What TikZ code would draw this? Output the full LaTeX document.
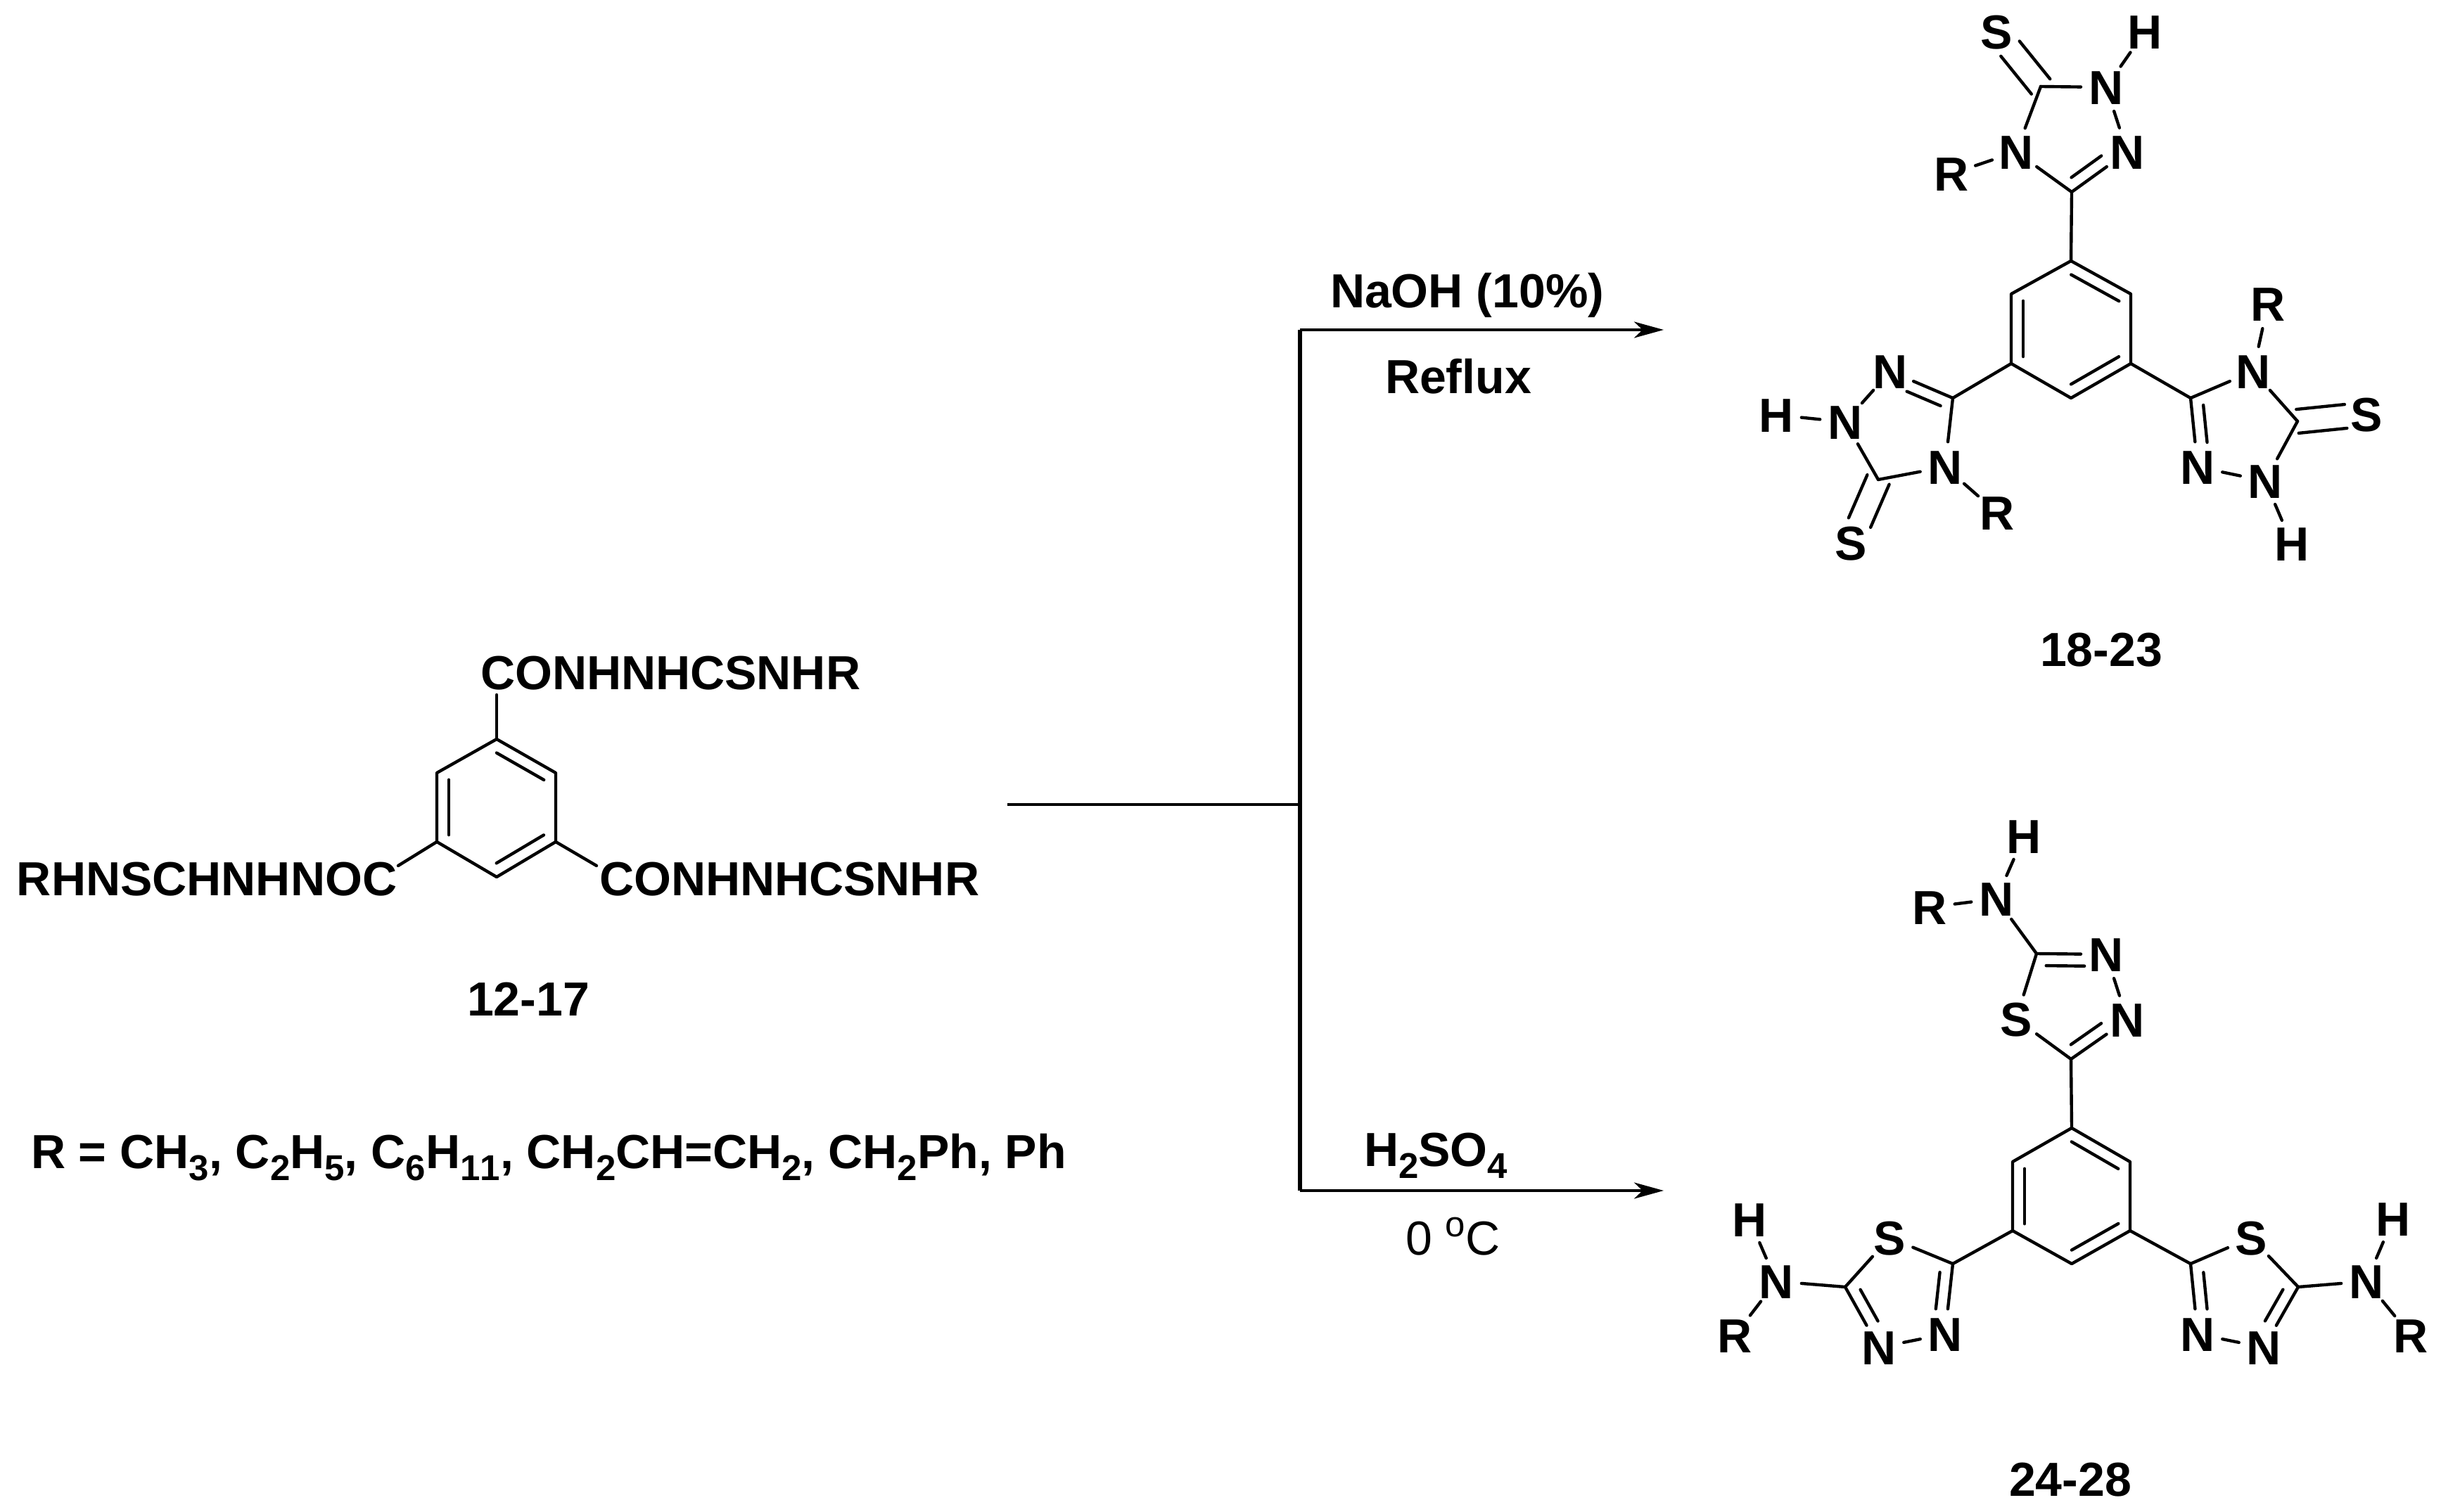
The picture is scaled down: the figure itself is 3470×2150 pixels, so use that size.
\documentclass[tikz,border=0pt]{standalone}
\usepackage{fontspec}
\setmainfont[Kerning=Off]{Liberation Sans}
\usetikzlibrary{calc,arrows.meta}
\newcommand{\bigfont}{\fontsize{34}{40}\selectfont}
\newcommand{\lowtxt}[1]{\raisebox{-8.5pt}{\fontsize{25.5}{27}\selectfont #1}}
\newcommand{\hightxt}[1]{\raisebox{13pt}{\fontsize{25.5}{27}\selectfont #1}}
\newcommand{\innerbond}[5]{\draw[bond] ($(#1)!#3!(#2)!8.5pt!#5:(#2)$) -- ($(#1)!#4!(#2)!8.5pt!#5:(#2)$);}
\newcommand{\twinbond}[3]{%
  \draw[bond] ($(#1)!8.5pt!90:(#2)$) -- ($(#1)!#3!(#2)!8.5pt!90:(#2)$);
  \draw[bond] ($(#1)!8.5pt!-90:(#2)$) -- ($(#1)!#3!(#2)!8.5pt!-90:(#2)$);}
\newcommand{\ringbonds}[6]{%
  \draw[bond] (#1) -- (#2) -- (#3) -- (#4) -- (#5) -- (#6) -- cycle;
  \innerbond{#1}{#2}{.1}{.9}{-90}
  \innerbond{#3}{#4}{.1}{.9}{-90}
  \innerbond{#5}{#6}{.1}{.9}{-90}}
\tikzset{
  bond/.style={line width=2.2pt,line cap=round,line join=round,black},
  atom/.style={circle,inner sep=0pt,outer sep=0pt,minimum size=36pt,font=\bigfont\bfseries,text height=24.5pt,text depth=0pt},
  txt/.style={anchor=base west,inner sep=0pt,outer sep=0pt,font=\bigfont\bfseries},
  plain/.style={anchor=base west,inner sep=0pt,outer sep=0pt,font=\bigfont},
  branch/.style={line width=2.2pt,black},
  trunk/.style={line width=2.6pt,black,line cap=square},
  rxn/.style={line width=2.2pt,black,-{Stealth[length=21pt,width=11.5pt,inset=6pt]}}
}
\begin{document}
\begin{tikzpicture}[x=0.5pt,y=-0.5pt]
\useasboundingbox (0,0) rectangle (3470,2150);

% ---------- starting material
\coordinate (c1) at (706,1051);
\coordinate (c2) at (790,1099);
\coordinate (c3) at (790,1197);
\coordinate (c4) at (706,1247);
\coordinate (c5) at (621,1197);
\coordinate (c6) at (621,1099);
\ringbonds{c1}{c2}{c3}{c4}{c5}{c6}
\coordinate (ce1) at (706,988);
\coordinate (ce3) at (848,1231);
\coordinate (ce5) at (566,1231);
\draw[bond] (c1) -- (ce1);
\draw[bond] (c3) -- (ce3);
\draw[bond] (c5) -- (ce5);
\node[txt] (ctop) at (683,980) {CONHNHCSNHR};
\node[txt] (cright) at (852,1273) {CONHNHCSNHR};
\node[txt] (cleft) at (24,1273) {RHNSCHNHNOC};
\node[txt] (clabel) at (664,1444) {12-17};
\node[txt] (rdef) at (44,1661) {R = CH\lowtxt{3}, C\lowtxt{2}H\lowtxt{5}, C\lowtxt{6}H\lowtxt{11}, CH\lowtxt{2}CH=CH\lowtxt{2}, CH\lowtxt{2}Ph, Ph};

% ---------- reaction scheme
\coordinate (j0) at (1432,1144);
\coordinate (j1) at (1848,1144);
\coordinate (jt) at (1848,469);
\coordinate (jb) at (1848,1693);
\coordinate (tipt) at (2365,469);
\coordinate (tipb) at (2365,1693);
\draw[branch] (j0) -- (j1);
\draw[trunk] (jt) -- (jb);
\draw[rxn] (jt) -- (tipt);
\draw[rxn] (jb) -- (tipb);
\node[txt] (naoh) at (1891,438) {NaOH (10\%)};
\node[txt] (reflux) at (1969,560) {Reflux};
\node[txt] (acid) at (1939,1658) {H\lowtxt{2}SO\lowtxt{4}};
\node[plain] (temp) at (1998,1784) {0 \hightxt{o}C};

% ---------- triazole product
\coordinate (a1) at (2944,371);
\coordinate (a2) at (3029,418);
\coordinate (a3) at (3029,517);
\coordinate (a4) at (2944,566);
\coordinate (a5) at (2859,517);
\coordinate (a6) at (2859,418);
\ringbonds{a1}{a2}{a3}{a4}{a5}{a6}
% top ring
\coordinate (ta3) at (2945,273);
\coordinate (ta5) at (2901,123);
\node[atom] (taS) at (2838,45) {S};
\node[atom] (taH) at (3049,45) {H};
\node[atom] (taN1) at (2994,124) {N};
\node[atom] (taN2) at (3024,216) {N};
\node[atom] (taN4) at (2866,216) {N};
\node[atom] (taR) at (2774,247) {R};
\draw[bond] (a1) -- (ta3);
\draw[bond] (ta3) -- (taN2);
\innerbond{ta3}{taN2}{.12}{.66}{90}
\draw[bond] (ta3) -- (taN4);
\draw[bond] (ta5) -- (taN4);
\draw[bond] (ta5) -- (taN1);
\draw[bond] (taN1) -- (taN2);
\draw[bond] (taN1) -- (taH);
\draw[bond] (taN4) -- (taR);
\twinbond{ta5}{taS}{.69}
% right ring
\coordinate (ra3) at (3114,566);
\coordinate (ra5) at (3266,599);
\node[atom] (raN4) at (3203,528) {N};
\node[atom] (raR) at (3224,432) {R};
\node[atom] (raS) at (3364,589) {S};
\node[atom] (raN1) at (3220,684) {N};
\node[atom] (raN2) at (3124,664) {N};
\node[atom] (raH) at (3258,773) {H};
\draw[bond] (a3) -- (ra3);
\draw[bond] (ra3) -- (raN2);
\innerbond{ra3}{raN2}{.12}{.66}{90}
\draw[bond] (ra3) -- (raN4);
\draw[bond] (ra5) -- (raN4);
\draw[bond] (ra5) -- (raN1);
\draw[bond] (raN1) -- (raN2);
\draw[bond] (raN1) -- (raH);
\draw[bond] (raN4) -- (raR);
\twinbond{ra5}{raS}{.7}
% left ring
\coordinate (la3) at (2776,566);
\coordinate (la5) at (2670,682);
\node[atom] (laN2) at (2687,528) {N};
\node[atom] (laN1) at (2623,600) {N};
\node[atom] (laH) at (2525,590) {H};
\node[atom] (laN4) at (2765,664) {N};
\node[atom] (laR) at (2839,729) {R};
\node[atom] (laS) at (2631,772) {S};
\draw[bond] (a5) -- (la3);
\draw[bond] (la3) -- (laN2);
\innerbond{la3}{laN2}{.12}{.66}{90}
\draw[bond] (la3) -- (laN4);
\draw[bond] (la5) -- (laN4);
\draw[bond] (la5) -- (laN1);
\draw[bond] (laN1) -- (laN2);
\draw[bond] (laN1) -- (laH);
\draw[bond] (laN4) -- (laR);
\twinbond{la5}{laS}{.68}
\node[txt,anchor=base] (alabel) at (2987,947) {18-23};

% ---------- thiadiazole product
\coordinate (b1) at (2945,1604);
\coordinate (b2) at (3028,1652);
\coordinate (b3) at (3028,1750);
\coordinate (b4) at (2945,1797);
\coordinate (b5) at (2861,1750);
\coordinate (b6) at (2861,1652);
\ringbonds{b1}{b2}{b3}{b4}{b5}{b6}
% top ring
\coordinate (tb3) at (2944,1506);
\coordinate (tb5) at (2895,1356);
\node[atom] (tbS) at (2866,1449) {S};
\node[atom] (tbN4) at (2994,1357) {N};
\node[atom] (tbN3) at (3024,1450) {N};
\node[atom] (tbNH) at (2838,1278) {N};
\node[atom] (tbH) at (2877,1189) {H};
\node[atom] (tbR) at (2743,1290) {R};
\draw[bond] (b1) -- (tb3);
\draw[bond] (tb3) -- (tbS);
\draw[bond] (tb3) -- (tbN3);
\innerbond{tb3}{tbN3}{.12}{.66}{90}
\draw[bond] (tb5) -- (tbS);
\draw[bond] (tb5) -- (tbN4);
\innerbond{tb5}{tbN4}{.14}{.69}{-90}
\draw[bond] (tbN4) -- (tbN3);
\draw[bond] (tb5) -- (tbNH);
\draw[bond] (tbNH) -- (tbH);
\draw[bond] (tbNH) -- (tbR);
% left ring
\coordinate (lb3) at (2776,1797);
\coordinate (lb5) at (2623,1830);
\node[atom] (lbS) at (2686,1760) {S};
\node[atom] (lbN4) at (2671,1916) {N};
\node[atom] (lbN3) at (2765,1897) {N};
\node[atom] (lbNH) at (2525,1822) {N};
\node[atom] (lbH) at (2487,1734) {H};
\node[atom] (lbR) at (2466,1899) {R};
\draw[bond] (b5) -- (lb3);
\draw[bond] (lb3) -- (lbS);
\draw[bond] (lb3) -- (lbN3);
\innerbond{lb3}{lbN3}{.14}{.66}{-90}
\draw[bond] (lb5) -- (lbS);
\draw[bond] (lb5) -- (lbN4);
\innerbond{lb5}{lbN4}{.14}{.66}{90}
\draw[bond] (lbN4) -- (lbN3);
\draw[bond] (lb5) -- (lbNH);
\draw[bond] (lbNH) -- (lbH);
\draw[bond] (lbNH) -- (lbR);
% right ring
\coordinate (rb3) at (3114,1797);
\coordinate (rb5) at (3267,1830);
\node[atom] (rbS) at (3200,1760) {S};
\node[atom] (rbN4) at (3218,1916) {N};
\node[atom] (rbN3) at (3124,1897) {N};
\node[atom] (rbNH) at (3364,1822) {N};
\node[atom] (rbH) at (3402,1733) {H};
\node[atom] (rbR) at (3427,1899) {R};
\draw[bond] (b3) -- (rb3);
\draw[bond] (rb3) -- (rbS);
\draw[bond] (rb3) -- (rbN3);
\innerbond{rb3}{rbN3}{.14}{.66}{90}
\draw[bond] (rb5) -- (rbS);
\draw[bond] (rb5) -- (rbN4);
\innerbond{rb5}{rbN4}{.14}{.66}{-90}
\draw[bond] (rbN4) -- (rbN3);
\draw[bond] (rb5) -- (rbNH);
\draw[bond] (rbNH) -- (rbH);
\draw[bond] (rbNH) -- (rbR);
\node[txt,anchor=base] (blabel) at (2943,2127) {24-28};
\end{tikzpicture}
\end{document}
